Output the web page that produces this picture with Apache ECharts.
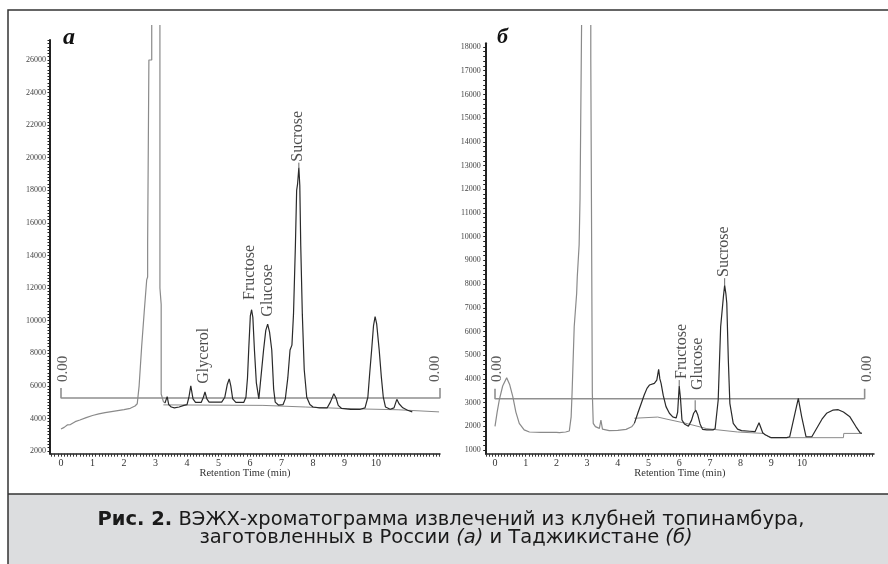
<!DOCTYPE html>
<html><head><meta charset="utf-8">
<script src="https://cdn.jsdelivr.net/npm/echarts@6/dist/echarts.min.js"></script>
<style>html,body{margin:0;padding:0;background:#fff}#c{width:888px;height:564px}</style>
</head><body><div id="c"></div>
<script>
// ---------- Tick labels ----------
const xLabelsA = [0,1,2,3,4,5,6,7,8,9,10];
const xLabelsB = [0,1,2,3,4,5,6,7,8,9,10];
const yLabelsA = [2000,4000,6000,8000,10000,12000,14000,16000,18000,20000,22000,24000,26000];
const yLabelsB = [1000,2000,3000,4000,5000,6000,7000,8000,9000,10000,11000,12000,13000,14000,15000,16000,17000,18000];

// ---------- Panel а (Russia) ----------
const grayA1 = [[0,3350],[0.1,3450],[0.2,3600],[0.3,3620],[0.45,3800],[0.6,3900],[0.8,4050],[1.0,4180],[1.2,4280],[1.4,4350],[1.6,4420],[1.8,4480],[2.0,4540],[2.2,4620],[2.35,4760],[2.42,4900],[2.48,6000],[2.56,8400],[2.64,10500],[2.72,12500],[2.75,12680],[2.75,14770],[2.79,14770],[2.79,26000],[2.88,26000],[2.88,28148]];
const grayA2 = [[3.14,28148],[3.14,12000],[3.18,11000],[3.18,5500],[3.25,5030],[3.3,4950]];
const darkA = [[3.3,4950],[3.37,5340],[3.42,4850],[3.5,4700],[3.6,4650],[3.75,4700],[3.9,4800],[4.0,4850],[4.06,5300],[4.12,6000],[4.19,5200],[4.27,4980],[4.45,4980],[4.52,5300],[4.57,5620],[4.63,5200],[4.7,5000],[5.1,5000],[5.2,5300],[5.28,6100],[5.34,6420],[5.39,6000],[5.45,5200],[5.55,4980],[5.8,4980],[5.87,5300],[5.92,6500],[5.96,8300],[6.01,10300],[6.05,10670],[6.09,10200],[6.14,8200],[6.2,6200],[6.28,5200],[6.34,5300],[6.43,8200],[6.5,9400],[6.56,9790],[6.62,9300],[6.69,8200],[6.75,5800],[6.8,5000],[6.9,4820],[7.05,4850],[7.12,5200],[7.2,6500],[7.27,8200],[7.33,8500],[7.38,10400],[7.44,14600],[7.48,18000],[7.51,18400],[7.55,19400],[7.58,18300],[7.61,14600],[7.66,10400],[7.72,7000],[7.8,5300],[7.9,4850],[8.0,4700],[8.2,4650],[8.45,4650],[8.55,5000],[8.66,5520],[8.73,5250],[8.8,4800],[8.9,4620],[9.2,4560],[9.5,4560],[9.65,4650],[9.74,5300],[9.8,6800],[9.86,8200],[9.92,9700],[9.97,10250],[10.02,9800],[10.1,8200],[10.17,6500],[10.23,5300],[10.3,4700],[10.45,4560],[10.57,4650],[10.66,5170],[10.73,4900],[10.85,4650],[11.0,4500],[11.15,4400]];
const baseA = [[3.25,4830],[6.41,4800],[6.41,4720],[7.75,4700],[7.75,4620],[9.1,4600],[9.1,4540],[10.7,4530],[10.7,4420],[12.0,4400]];
const zeroA = [[0,5867],[0,5254],[12.03,5254],[12.03,5867]];
const peakLabelsA = [
  {name:'Glycerol', value:[4.52,6131]},
  {name:'Fructose', value:[6.00,11270]},
  {name:'Glucose',  value:[6.55,10245]},
  {name:'Sucrose',  value:[7.53,19760]}
];
const zeroLabelsA = [{name:'0.00', value:[0.07,6235]},{name:'0.00', value:[11.87,6235]}];
const leadersA = [[7.55,19400],[7.55,19700]];

// ---------- Panel б (Tajikistan) ----------
const grayB1 = [[0,2000],[0.07,2600],[0.14,3110],[0.25,3700],[0.38,4050],[0.48,3750],[0.58,3250],[0.68,2600],[0.79,2125],[0.95,1850],[1.12,1760],[1.5,1740],[2.0,1740],[2.05,1790],[2.1,1730],[2.3,1760],[2.42,1800],[2.48,2400],[2.51,3390],[2.58,6200],[2.66,7610],[2.68,8310],[2.74,9650],[2.77,11630],[2.82,18928]];
const grayB2 = [[3.12,18928],[3.12,17540],[3.17,17540],[3.17,3390],[3.2,2125],[3.27,1985],[3.4,1914],[3.45,2265],[3.5,1880],[3.72,1815],[4.0,1830],[4.27,1870],[4.45,1980],[4.54,2125]];
const darkB = [[4.54,2125],[4.65,2550],[4.76,2950],[4.86,3320],[4.95,3600],[5.03,3740],[5.19,3810],[5.27,3950],[5.33,4400],[5.37,4000],[5.41,3810],[5.48,3300],[5.57,2830],[5.68,2550],[5.79,2400],[5.9,2350],[5.95,2600],[6.0,3700],[6.04,3200],[6.09,2265],[6.17,2100],[6.3,2000],[6.4,2250],[6.47,2550],[6.54,2680],[6.6,2500],[6.68,2100],[6.76,1870],[6.9,1850],[7.1,1850],[7.17,1900],[7.27,3110],[7.35,6200],[7.44,7470],[7.48,7950],[7.52,7600],[7.55,7190],[7.6,4800],[7.65,2970],[7.76,2125],[7.9,1880],[8.03,1815],[8.3,1790],[8.47,1775],[8.6,2150],[8.72,1730],[8.8,1640],[9.0,1520],[9.5,1520],[9.6,1560],[9.77,2550],[9.88,3180],[9.99,2400],[10.13,1560],[10.32,1560],[10.48,1915],[10.65,2300],[10.8,2550],[11.0,2680],[11.18,2700],[11.35,2600],[11.56,2400],[11.75,2000],[11.89,1730],[11.95,1700]];
const baseB = [[4.54,2340],[5.3,2390],[5.6,2300],[6.22,2125],[6.9,1900],[7.9,1760],[8.74,1700],[8.96,1520],[11.35,1520],[11.36,1700],[11.94,1700]];
const zeroB = [[0,3587],[0,3164],[12.04,3164],[12.04,3587]];
const peakLabelsB = [
  {name:'Fructose', value:[6.10,3995]},
  {name:'Glucose',  value:[6.59,3531]},
  {name:'Sucrose',  value:[7.46,8298]}
];
const zeroLabelsB = [{name:'0.00', value:[0.055,3869]},{name:'0.00', value:[12.11,3869]}];
const leadersB = [[[6.0,3700],[6.0,3950]],[[6.52,2680],[6.52,3100]],[[7.48,7950],[7.48,8250]]];

// ---------- helpers ----------
const serif = '"Liberation Serif","DejaVu Serif",serif';
function range(a, b, s) { const r = []; for (let v = a; v <= b + 1e-9; v += s) r.push(Math.round(v * 1000) / 1000); return r; }
const plain = v => String(v);

function xAxisCfg(gi, min, max, labels, ticks) {
  return {
    gridIndex: gi, type: 'value', min: min, max: max,
    axisLine: { show: true, onZero: false, lineStyle: { color: '#222', width: 1.5 } },
    axisTick: { show: true, customValues: ticks, length: 3, lineStyle: { color: '#333', width: 1 } },
    axisLabel: { customValues: labels, formatter: plain, fontSize: 10, fontFamily: serif, color: '#333', margin: 5 },
    splitLine: { show: false },
    name: 'Retention Time (min)', nameLocation: 'middle', nameGap: 14, nameMoveOverlap: false,
    nameTextStyle: { fontFamily: serif, fontSize: 10.5, color: '#333' }
  };
}
function yAxisCfg(gi, min, max, labels, ticks, margin) {
  return {
    gridIndex: gi, type: 'value', min: min, max: max,
    axisLine: { show: true, onZero: false, lineStyle: { color: '#222', width: 2 } },
    axisTick: { show: true, customValues: ticks, length: 2.5, lineStyle: { color: '#222', width: 1 } },
    axisLabel: { customValues: labels, formatter: plain, fontSize: 8, fontFamily: serif, color: '#444', margin: margin },
    splitLine: { show: false }
  };
}
function lineS(gi, data, color, width) {
  return { type: 'line', xAxisIndex: gi, yAxisIndex: gi, data: data, symbol: 'none', showSymbol: false,
    clip: false, silent: true, animation: false, lineStyle: { color: color, width: width } };
}
function labelS(gi, data, size, color) {
  return { type: 'scatter', xAxisIndex: gi, yAxisIndex: gi, data: data, symbolSize: 0, silent: true, animation: false, clip: false,
    label: { show: true, formatter: p => p.name, rotate: 90, position: 'top', distance: 0, align: 'left', verticalAlign: 'middle',
      fontFamily: serif, fontSize: size, color: color } };
}

const series = [
  lineS(0, zeroA, '#8f8f8f', 1.6),
  lineS(0, baseA, '#8a8a8a', 1),
  lineS(0, grayA1, '#8a8a8a', 1.2),
  lineS(0, grayA2, '#8a8a8a', 1.2),
  lineS(0, darkA, '#2a2a2a', 1.2),
  lineS(0, leadersA, '#444', 0.8),
  labelS(0, peakLabelsA, 16, '#1e1e1e'),
  labelS(0, zeroLabelsA, 15, '#333'),
  lineS(1, zeroB, '#8f8f8f', 1.6),
  lineS(1, baseB, '#8a8a8a', 1),
  lineS(1, grayB1, '#8a8a8a', 1.2),
  lineS(1, grayB2, '#8a8a8a', 1.2),
  lineS(1, darkB, '#2a2a2a', 1.2),
  labelS(1, peakLabelsB, 16, '#1e1e1e'),
  labelS(1, zeroLabelsB, 15, '#333')
];
leadersB.forEach(l => series.push(lineS(1, l, '#444', 0.8)));

const capFont = '"DejaVu Sans"';
const chart = echarts.init(document.getElementById('c'), null, { renderer: 'canvas' });
chart.setOption({
  backgroundColor: '#fff',
  animation: false,
  grid: [
    { left: 50, top: 40, width: 390, height: 413.7, containLabel: false },
    { left: 485.7, top: 43.3, width: 388.3, height: 410.4, containLabel: false }
  ],
  xAxis: [
    xAxisCfg(0, -0.349, 12.03, xLabelsA, range(-0.3, 12.0, 0.1)),
    xAxisCfg(1, -0.303, 12.345, xLabelsB, range(-0.3, 12.3, 0.1))
  ],
  yAxis: [
    yAxisCfg(0, 1834, 27227, yLabelsA, range(2000, 27200, 200), 4),
    yAxisCfg(1, 844, 18156, yLabelsB, range(1000, 18100, 200), 5)
  ],
  series: series,
  graphic: [
    { type: 'rect', z: -10, silent: true, shape: { x: 8, y: 494, width: 900, height: 80 }, style: { fill: '#dcdddf', stroke: null } },
    { type: 'line', silent: true, shape: { x1: 8, y1: 494, x2: 888, y2: 494 }, style: { stroke: '#333', lineWidth: 1.5 } },
    { type: 'rect', silent: true, shape: { x: 8, y: 10, width: 900, height: 600 }, style: { fill: null, stroke: '#333', lineWidth: 1.5 } },
    { type: 'text', silent: true, x: 63, y: 38, style: { text: 'а', font: 'bold italic 24px "Liberation Serif"', fill: '#111', textVerticalAlign: 'middle' } },
    { type: 'text', silent: true, x: 497, y: 37, style: { text: 'б', font: 'bold italic 22px "Liberation Serif"', fill: '#111', textVerticalAlign: 'middle' } },
    { type: 'text', silent: true, x: 451, y: 520,
      style: { text: '{b|Рис. 2.} ВЭЖХ-хроматограмма извлечений из клубней топинамбура,', textAlign: 'center', textVerticalAlign: 'middle',
        fontFamily: capFont, fontSize: 19.5, fill: '#1a1a1a',
        rich: { b: { fontWeight: 'bold', fontFamily: capFont, fontSize: 19.5, fill: '#1a1a1a' } } } },
    { type: 'text', silent: true, x: 446, y: 538,
      style: { text: 'заготовленных в России {i|(а)} и Таджикистане {i|(б)}', textAlign: 'center', textVerticalAlign: 'middle',
        fontFamily: capFont, fontSize: 19.5, fill: '#1a1a1a',
        rich: { i: { fontStyle: 'italic', fontFamily: capFont, fontSize: 19.5, fill: '#1a1a1a' } } } }
  ]
});
</script></body></html>
